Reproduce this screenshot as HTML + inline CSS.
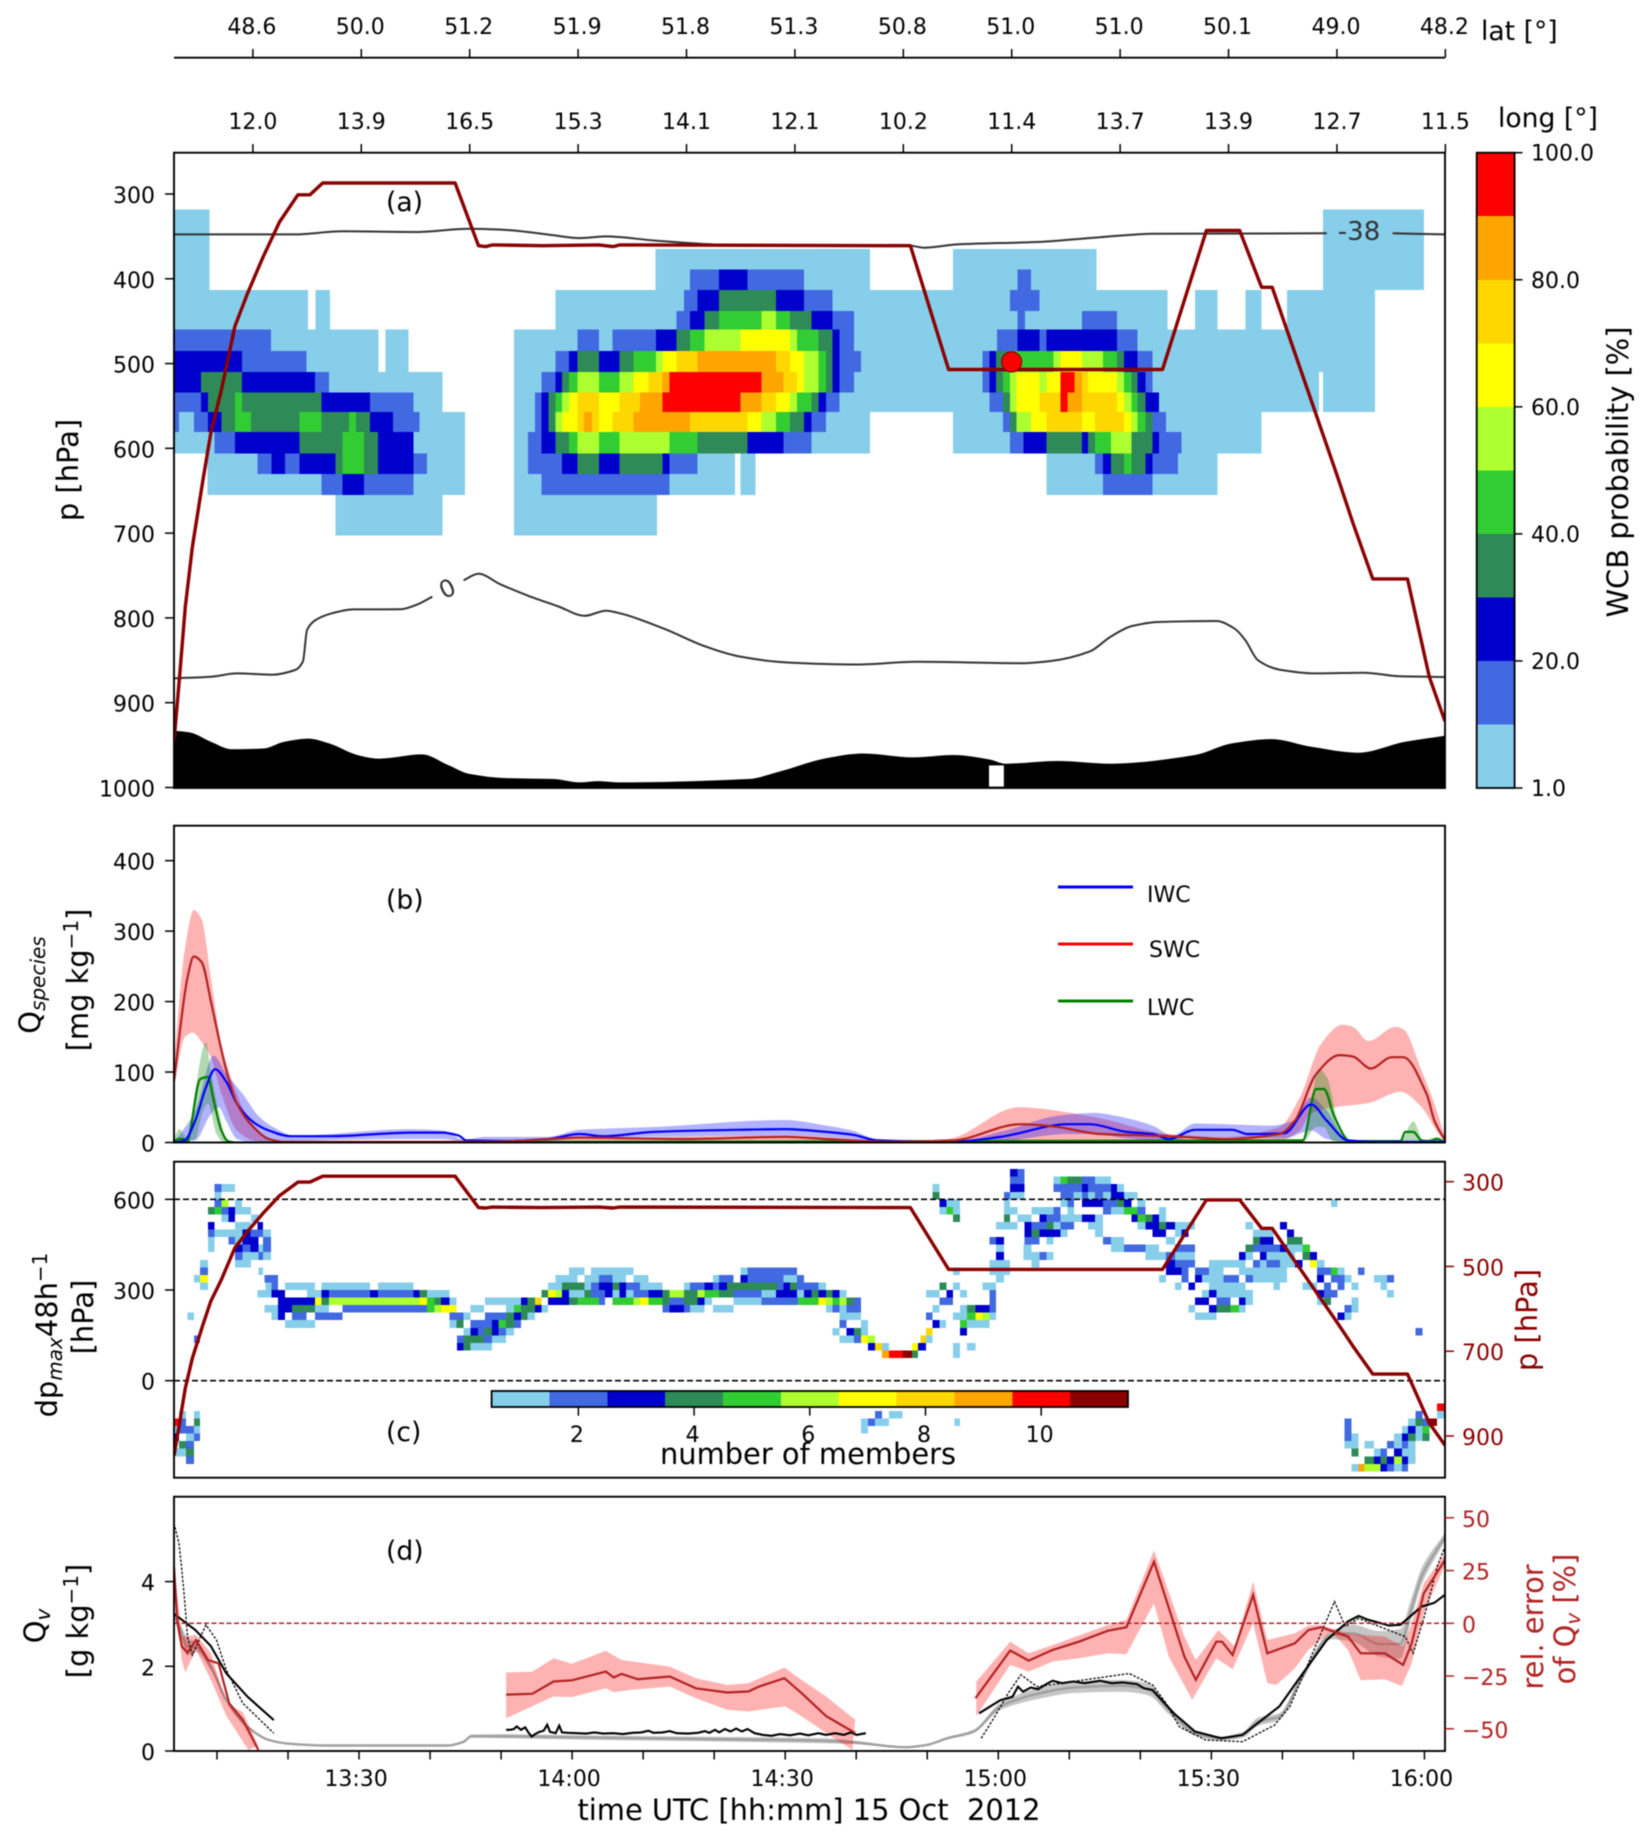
<!DOCTYPE html>
<html lang="en">
<head>
<meta charset="utf-8">
<title>WCB flight cross-section</title>
<style>
html,body{margin:0;padding:0;background:#fff}
#figure{display:block;width:1652px;height:1845px;filter:blur(0.5px)}
text{font-family:"DejaVu Sans","Liberation Sans",sans-serif;fill:#000}
.lbl{font-size:26.6px}
.ttl{font-size:28.9px}
</style>
</head>
<body>
<svg id="figure" xmlns="http://www.w3.org/2000/svg" width="1652" height="1845" viewBox="0 0 1652 1845">
<defs>
<clipPath id="clip-a"><rect x="174" y="152.7" width="1271" height="635.3"/></clipPath>
<clipPath id="clip-b"><rect x="174" y="825.7" width="1271" height="316.8"/></clipPath>
<clipPath id="clip-c"><rect x="174" y="1161.7" width="1271" height="316"/></clipPath>
<clipPath id="clip-d"><rect x="174" y="1496.7" width="1271" height="254.3"/></clipPath>
</defs>
<g id="panel-a"></g>
<g id="panel-b"></g>
<g id="panel-c"></g>
<g id="panel-d"></g>
<g id="axes-layer"></g>

<text class="lbl" x="386" y="211">(a)</text>
<text class="lbl" x="386" y="909">(b)</text>
<text class="lbl" x="386" y="1441">(c)</text>
<text class="lbl" x="386" y="1560">(d)</text>

<text class="lbl" x="1481" y="40">lat [°]</text>
<text class="lbl" x="1498" y="127">long [°]</text>
<text class="ttl" text-anchor="middle" transform="translate(78,470) rotate(-90)">p [hPa]</text>
<text class="ttl" text-anchor="middle" transform="translate(1628,472) rotate(-90)">WCB probability [%]</text>

<text class="ttl" text-anchor="middle" transform="translate(40,985) rotate(-90)">Q<tspan font-size="20" font-style="italic" dy="5">species</tspan></text>
<text class="ttl" text-anchor="middle" transform="translate(88,980) rotate(-90)">[mg kg<tspan font-size="20" dy="-10">−1</tspan><tspan dy="10">]</tspan></text>

<line x1="1058" x2="1133" y1="887" y2="887" stroke="#0000ff" stroke-width="3"/>
<line x1="1058" x2="1133" y1="944" y2="944" stroke="#ff0000" stroke-width="3"/>
<line x1="1058" x2="1133" y1="1001" y2="1001" stroke="#008000" stroke-width="3"/>
<text x="1147" y="902" font-size="22">IWC</text>
<text x="1149" y="957" font-size="22">SWC</text>
<text x="1147" y="1015" font-size="22">LWC</text>

<text class="ttl" text-anchor="middle" transform="translate(57,1335) rotate(-90)">dp<tspan font-size="20" font-style="italic" dy="5">max</tspan><tspan dy="-5">48h</tspan><tspan font-size="20" dy="-10">−1</tspan></text>
<text class="ttl" text-anchor="middle" transform="translate(93,1317) rotate(-90)">[hPa]</text>
<text class="ttl" text-anchor="middle" transform="translate(1537,1320) rotate(-90)" style="fill:#8b0000">p [hPa]</text>
<text class="ttl" text-anchor="middle" x="808" y="1464">number of members</text>

<text class="ttl" text-anchor="middle" transform="translate(45,1626) rotate(-90)">Q<tspan font-size="20" font-style="italic" dy="5">v</tspan></text>
<text class="ttl" text-anchor="middle" transform="translate(88,1621) rotate(-90)">[g kg<tspan font-size="20" dy="-10">−1</tspan><tspan dy="10">]</tspan></text>
<text class="ttl" text-anchor="middle" transform="translate(1543,1627) rotate(-90)" style="fill:#b22222">rel. error</text>
<text class="ttl" text-anchor="middle" transform="translate(1575,1619) rotate(-90)" style="fill:#b22222">of Q<tspan font-size="20" font-style="italic" dy="5">v</tspan><tspan dy="-5"> [%]</tspan></text>
<text class="ttl" text-anchor="middle" x="809" y="1820">time UTC [hh:mm] 15 Oct&#160;&#160;2012</text>
</svg>

<script>
// ---------- shared axis values ----------
const latLabels = ["48.6","50.0","51.2","51.9","51.8","51.3","50.8","51.0","51.0","50.1","49.0","48.2"];
const lonLabels = ["12.0","13.9","16.5","15.3","14.1","12.1","10.2","11.4","13.7","13.9","12.7","11.5"];
const pressureTicks = [300,400,500,600,700,800,900,1000];
const wcbLevels = [1,10,20,30,40,50,60,70,80,90,100];
const wcbColors = ["#87ceeb","#4169e1","#0000cd","#2e8b57","#32cd32","#adff2f","#ffff00","#ffd700","#ffa500","#ff0000"];
const wcbColorbarTicks = [1,20,40,60,80,100];
const qTicks = [0,100,200,300,400];
const dpTicks = [0,300,600];
const cRightTicks = [300,500,700,900];
const memberColors = ["#87ceeb","#4169e1","#0000cd","#2e8b57","#32cd32","#adff2f","#ffff00","#ffd700","#ffa500","#ff0000","#8b0000"];
const memberTicks = [2,4,6,8,10];
const qvTicks = [0,2,4];
const relTicks = [-50,-25,0,25,50];
const timeTickMinutes = [790,800,810,820,830,840,850,860,870,880,890,900,910,920,930,940,950,960];

// ---------- panel (a) data (time in minutes since axis start) ----------
const wcbPressureEdges = [318,365,389,413,438,460,485,510,534,557,581,606,630,655,703];
const wcbRuns = [
[0,5,5,0,162.3,5,176.5,0],
[0,5,5,0,68,5,98.3,0,110,5,130.3,0,162.3,5,176.5,0],
[0,5,5,0,68,5,72.9,15,77,25,81,15,89,5,98.3,0,110,5,119.1,15,121,5,130.3,0,162.3,5,176.5,0],
[0,5,18.9,0,20,5,22,0,53.9,5,72,15,73.9,25,77,35,85,25,89,15,93,5,118.1,15,122.2,5,140.3,0,144.2,5,147.4,0,151.3,5,153.6,0,157.2,5,169.6,0],
[0,5,18.9,0,20,5,22,0,53.9,5,71,15,72.9,25,74.9,35,77,45,83,55,85,45,87,35,90,25,93,15,96,5,119.1,15,120.2,5,128.2,15,133.2,5,140.3,0,144.2,5,147.4,0,151.3,5,153.6,0,157.2,5,169.6,0],
[0,15,13.7,5,28.9,0,29.9,5,33.1,0,48,5,57,15,60,5,61.9,15,68.1,25,71,35,72.9,45,74.9,55,80,65,87,55,88,45,91,35,93,25,94,15,96,5,116.2,15,119.1,25,122.2,15,123.2,25,133.2,15,136.1,5,169.6,0],
[0,25,9.6,15,18.7,5,28.9,0,29.9,5,33.1,0,48,5,53.9,15,55.8,25,57,35,60,25,62.9,35,64.9,45,68.1,55,69,65,71,75,73.9,85,85,75,87,65,89,55,91,45,92.1,35,93,25,94,15,97,5,114.2,15,115.2,25,116.1,35,118.1,45,124.2,55,125.2,65,128.2,55,131.2,45,133.2,35,134.2,25,136.1,15,138.2,5,169.6,0],
[0,25,3.8,35,9.6,25,19.9,15,21.9,5,37.9,0,48,5,51.9,15,53.9,25,54.8,35,55.8,45,57,55,60,45,62.9,55,64.9,65,67,75,69,85,70,95,83,85,86.1,75,88,65,89,55,91,45,92.1,35,93,25,94,15,96,5,114.2,15,115.2,25,116.1,35,117.1,45,118.1,55,119,65,122.2,55,123.2,65,125.2,95,127.2,85,128.2,75,129.1,65,133.2,55,134.2,45,135.2,35,136.1,25,137.2,15,138.2,5,161.7,0,162.3,5,169.6,0],
[0,15,3.8,25,4.8,35,8.6,45,9.6,35,20.8,25,27.7,15,33.8,5,37.9,0,48,5,51,15,51.9,25,52.9,35,53.9,45,54.8,55,55.8,65,57,75,60,65,62.9,75,65.8,85,69,95,80,85,83,75,85,65,87,55,88,45,90,35,91,25,92.1,15,94,5,115.2,15,117.1,35,118.1,55,119,65,122.2,75,125.2,95,126.2,85,128.2,75,133.2,65,134.2,55,135.2,45,136.1,35,137.2,25,139.1,5,161.7,0,162.3,5,169.6,0],
[0,15,.7,5,2.8,15,4.8,25,6.7,35,8.6,45,10.9,35,17.7,45,20.8,35,24.7,45,25.7,35,27.7,25,30.9,15,34.7,5,41.1,0,48,5,51,15,51.9,25,52.9,35,53.9,55,54.8,65,57,75,57.9,85,59,75,60,65,61.9,75,64.9,85,72.9,75,81,65,83,55,85,45,87,35,89,25,90,15,92.1,5,98.3,0,110,5,117.1,15,118.1,35,119,55,121,65,123.2,75,128.2,65,130.1,75,134.2,65,135.2,55,136.1,45,137.2,35,138.2,15,140.1,5,153.6,0],
[0,5,5.7,15,8.6,25,17.7,35,23.8,45,26.8,35,28.8,25,33.8,5,41.1,0,48,5,50,15,51.9,25,53.9,35,55.8,45,57,55,60,45,62.9,55,70,45,73.9,35,81,25,86.1,15,90,5,98.3,0,110,5,118.1,15,120,25,123.2,35,128.2,25,129.1,35,130.1,45,132.3,55,135.2,35,138.2,25,139.1,15,142.3,5,153.6,0],
[4.7,5,11.8,15,13.8,25,15.7,15,17.7,25,22.8,35,23.8,45,26.8,35,28.8,25,33.8,15,35.7,5,41.1,0,48,5,50,15,54.8,25,57,35,60,25,62.9,35,69,25,70,15,73.9,5,79.2,0,80,5,82.1,0,123.2,5,130.1,15,131.2,25,132.3,35,134.2,45,135.2,35,137.2,25,138.2,15,141.8,5,147.4,0],
[4.7,5,20.8,15,23.8,25,26.8,15,33.8,5,41.1,0,48,5,51.9,15,70,5,79.2,0,80,5,82.1,0,123.2,5,131.2,15,138.2,5,147.4,0],
[22.8,5,37.9,0,48,5,68.2,0]
];
const flightPressure = [[0,946],[.75,873],[1.6,787],[2.6,716],[4.1,637],[5.2,582],[6.7,531],[8.6,456],[10.4,417],[12.6,374],[14.9,333],[17.5,301],[19.2,301],[21,287],[39.7,287],[43,361],[44,362],[45,360],[52,361],[60,360],[62,362],[63,360],[104,361],[109.4,507],[139.6,507],[145.8,343],[150.5,343],[153.6,410],[155.1,410],[164.3,633],[166.5,688],[169.3,754],[174.2,754],[177.3,870],[179.5,922]];
const contourMinus38a = [[0,347.6],[10,347.6],[17,347.6],[23.8,344],[34.2,344.8],[41.7,341],[47,342.5],[53,348],[57.3,352],[61,350],[68,355],[78,360],[92.1,361],[104,361],[105.9,363.3],[110.7,359.4],[121.9,356.6],[130.8,351],[138.2,347],[162.8,346.4]];
const contourMinus38b = [[172.1,346.4],[179.5,347.6]];
const contourZeroA = [[0,871.3],[5.2,869.4],[8.9,865.5],[13.8,867],[17.1,861.5],[18.2,851.6],[18.8,814],[20,802.5],[22.3,794.6],[25.3,790],[32,789.8],[34.2,784.7],[36.5,775]];
const contourZeroB = [[40.9,755.6],[43,748],[46.1,760.4],[49.9,773.5],[54.3,786.5],[58,797.5],[61,791.5],[63.2,795],[69.2,812.7],[75.1,833.9],[79.6,845],[85.6,852],[92.1,854.4],[96.6,855],[104.8,851.8],[119.6,853.4],[124.1,850.5],[129.3,839.8],[132.3,822],[135.3,809.6],[139,804.8],[147.2,803.7],[149.8,812.7],[151.3,826.3],[153.1,850],[156.1,861],[161.3,865.5],[168,864.6],[173.2,868.9],[179.5,869.7]];
const terrainPressure = [[0,933],[2.2,935],[5.2,946],[8.2,955],[12.6,954],[15.6,946],[19,942.4],[21.9,948],[26,962],[29,966],[35,961],[38.7,973.5],[41.7,984],[46.9,989],[53.6,990],[57.3,994],[59.9,992.5],[62.9,994],[81.1,990],[85.6,981],[92.1,965.5],[97.3,960],[104.4,964.5],[110,961.7],[115.2,967],[117.4,972],[124.8,968.8],[132.3,972],[144.2,961.7],[149.4,948],[155,943],[160.6,952],[167.2,959],[173.9,946],[179.5,939]];
const terrainGap = [115.1,117.2,974,999];
const pointMarker = [118.3,498];

// ---------- panel (b) data ----------
const swcMean = [[0,88],[1.9,234],[2.8,264],[3.9,256],[5.2,201],[6.3,149],[7.4,102],[8.9,55],[11.2,22],[13.4,5],[15.6,1],[45,1],[49.9,3],[57.3,7],[72.2,5],[86.3,8],[92.1,5],[101,1],[110,3],[119.6,26],[124.1,23],[130.8,12],[140.5,9],[148.6,5],[156.1,12],[158.3,31],[161.3,97],[164.6,124],[166.5,122],[169,105],[172,121],[173.6,121],[176.9,69],[178,31],[179.5,3]];
const swcHigh = [[0,114],[1.5,272],[2.8,330],[3.9,317],[5.2,234],[6.7,140],[8.2,88],[10.4,36],[13.4,7],[15.6,1],[49.9,4],[86.3,10],[92.1,8],[101,2],[109.2,5],[119.3,50],[130,36],[140.5,12],[148.6,8],[156.1,22],[159,64],[162,140],[165,167],[166.5,164],[168.7,144],[172.5,164],[173.6,161],[176.2,102],[178,55],[179.5,8]];
const swcLow = [[0,78],[1.5,149],[2.6,156],[4.1,140],[5.2,121],[6.7,69],[8.9,17],[11.2,3],[13.4,0],[49.9,1],[86.3,3],[92.1,2],[101,0],[110,1],[119.6,3],[140.5,3],[148.6,2],[156.1,3],[159,17],[160.5,41],[163.9,50],[168.7,56],[173.2,72],[176.2,50],[178.4,15],[179.5,0]];
const iwcMean = [[0,0],[1.5,3],[3,31],[4.5,78],[5.8,104],[7.4,86],[8.9,55],[11.2,29],[13.4,17],[16.4,9],[22.3,9],[33.5,14],[37.9,14],[40.2,10],[41.3,3],[46.9,2],[52.8,5],[57.3,12],[60.6,9],[67.7,15],[79.6,18],[86.3,19],[92.1,15],[95.8,11],[99.5,3],[110,1],[116.7,8],[126.3,26],[129.3,26],[134.5,15],[138.2,12],[140.5,5],[144.2,18],[149.4,18],[151.6,12],[156.8,13],[160.6,54],[162.8,31],[165.8,3],[169.5,1],[179.5,1]];
const iwcHigh = [[0,0],[3,45],[5.6,123],[7.4,97],[9.7,69],[11.9,38],[14,22],[17,10],[33.5,19],[37.9,17],[41,4],[43.9,8],[52.8,8],[57.3,18],[67.7,22],[86.3,32],[92.1,24],[95.8,17],[99.5,4],[110,2],[117.4,17],[124.8,38],[130,42],[133,38],[138.2,24],[141,10],[144.2,27],[155,24],[158,31],[160.6,64],[162.8,45],[165.8,4],[179.5,1]];
const iwcLow = [[0,0],[3,3],[5.2,40],[6.3,50],[7.4,30],[8.9,5],[11.2,0],[16.4,2],[33.5,5],[37.9,5],[41.3,1],[52.8,2],[57.3,6],[67.7,8],[86.3,10],[92.1,8],[95.8,5],[99.5,1],[110,0],[116.7,2],[126.3,12],[130,12],[134.5,6],[140.5,2],[144.2,8],[156.8,6],[160.6,17],[162.8,5],[165.8,1],[179.5,1]];
const lwcMean = [[0,0],[.6,5],[1.3,5],[1.9,0],[2.2,12],[3.7,90],[4.8,93],[5.6,60],[6.7,17],[7.6,2],[8.6,0],[159.4,3],[161.3,76],[162.4,76],[163.9,36],[166.1,2],[173.2,2],[173.9,15],[175,15],[176.2,3],[177.3,2],[178.4,5],[179.5,0]];
const lwcHigh = [[0,5],[.7,19],[1.5,10],[2,0],[2.6,45],[4.5,142],[5.2,102],[6.3,45],[7.4,5],[8.6,0],[159.4,0],[161.7,104],[162.8,93],[164.6,22],[166.1,2],[173.2,2],[175,30],[176.5,3],[178.4,8],[179.5,0]];
const lwcLow = [[0,0],[3,5],[4.1,45],[4.8,55],[6,12],[7.1,0],[159.4,0],[161.3,22],[162.4,22],[163.5,3],[164.6,0],[179.5,0]];

// ---------- panel (c) data: rows keyed by lower dp edge, runs of [time, members] ----------
const memberDpEdges = [675,650,625,600,575,550,525,500,475,450,425,400,375,350,325,300,275,250,225,200,175,150,125,100,75,-100,-125,-150,-175,-200,-225,-250,-275,-300];
const memberRuns = [
[118.1,3,119.1,2,120.1,0],
[118.1,2,120.1,0,124.2,1,125.2,5,126.2,4,128.2,2,130.1,1,132.3,0],
[5.7,2,6.7,1,8.6,0,107.1,1,108.1,0,118.1,3,120.1,0,124.2,2,128.2,3,129.1,2,132.3,3,133.2,1,134.2,0],
[5.7,1,6.7,0,107.1,4,108.1,0,117.2,2,118.1,1,120.1,0,125.2,2,127,1,128.2,2,129.1,1,130.1,2,131.2,1,132.3,3,134.2,1,136.1,0],
[5.7,2,6.7,6,7.7,0,8.6,1,9.6,0,108.1,3,109.1,1,111,0,117.2,1,118.1,0,125.2,1,126.2,2,127.1,0,128.2,3,131.2,2,133.2,4,134.2,3,135.2,0,136.1,1,137.2,0,163.4,1,164.3,0],
[4.8,4,5.7,5,6.7,2,7.7,3,8.6,1,10.9,0,108.1,1,109.1,5,110,1,111,0,117.2,1,119.1,0,121.1,1,124.2,2,125.2,0,126.2,1,127.1,0,131.2,2,132.3,1,134.2,5,136.1,2,137.2,0,139.1,1,140.1,0],
[6.7,1,7.7,3,8.6,0,10.9,1,11.9,0,110,4,111,0,117.2,4,118.1,0,119.1,1,121.1,0,122.2,3,123.2,2,125.2,1,128.2,3,130.1,1,131.2,0,135.2,3,136.1,5,137.2,4,138.2,3,139.1,1,140.1,0],
[4.8,3,5.7,0,8.6,1,10.9,0,11.8,3,12.6,0,116.1,1,119.1,0,120.1,3,121.1,2,123.2,4,124.2,1,125.2,2,127.1,0,129.1,1,131.2,0,136.1,1,137.2,3,139.1,4,140.1,3,141.4,1,144.2,0,151.3,1,152.4,0,156.2,3,157.2,0],
[4.8,2,5.7,1,9.7,3,10.8,2,12.6,1,13.7,0,120.1,3,121.1,4,122.2,3,125.2,1,126.2,0,130.1,1,131.2,0,138.2,3,140.1,0,141.4,1,142.3,3,143.3,0,152.4,1,155.3,0,157.2,3,158.2,0],
[4.8,1,5.7,0,7.7,2,8.6,1,9.7,3,11.9,0,12.6,2,13.7,0,115.2,2,116.1,3,117.2,0,120.1,2,122.2,0,123.2,1,124.2,0,131.2,2,132.3,1,134.2,0,140.1,1,141.4,0,152.4,4,153.4,3,155.3,0,157.2,4,159.4,0],
[4.8,1,5.7,0,8.6,3,9.7,2,10.8,3,11.9,1,12.6,2,13.7,0,116.1,1,117.2,0,120,1,121.1,0,132.3,1,134.2,2,137.2,1,139.1,0,141.4,2,144.2,0,151.3,4,152.4,2,156.2,3,157.2,1,159.4,5,160.4,0],
[8.6,2,9.7,1,11.9,2,12.6,1,13.7,0,116.1,3,117.2,0,120,1,122.2,2,123.2,1,124.2,0,137.2,1,140.1,2,141.4,1,144.2,0,150.4,3,151.3,1,152.4,0,153.4,3,154.3,1,158.3,0,159.4,4,160.4,3,161.4,0],
[3.7,1,4.8,0,8.6,1,10.9,0,115.2,1,118.1,0,121.1,1,122.2,0,140.1,3,141.4,2,144.2,0,146.2,1,151.3,0,152.4,2,153.4,1,154.3,2,156.2,1,158.3,3,159.4,0,160.4,7,161.4,1,162.5,0],
[3.7,2,4.8,0,11.9,1,12.6,0,55.8,1,58,0,58.9,1,64.9,0,80,1,81,2,88,0,110,1,111,0,115.2,1,118.1,0,140.1,3,142.3,2,143.3,0,144.2,2,146.2,1,148.2,0,150.4,1,157.2,0,161.4,2,163.4,5,164.3,1,165.3,0,167.2,2,168.1,0],
[2.8,1,3.7,7,4.8,0,12.8,2,14.7,0,53.9,1,57,0,58,1,60,2,61.9,1,63.8,0,64.9,1,67,0,76.1,1,77,2,79,0,80,3,81,2,86.1,1,88,2,89,0,116.1,1,117.2,0,139.1,1,140.1,0,142.3,2,143.3,0,144.2,3,145.2,1,148.2,2,150.4,0,151.3,2,152.4,1,157.2,0,161.4,3,162.4,0,163.4,2,165.3,1,166.3,0,169.5,1,171.3,2,172.3,0],
[3.7,1,4.8,0,12.9,1,13.8,2,14.7,0,15.7,1,19.9,0,20.8,1,27.7,0,28.8,1,33.8,0,52.8,1,54.8,4,58,1,58.9,2,60,3,61.9,4,62.9,3,63.8,2,65.8,1,69,0,72,1,72.9,2,74.9,3,76.1,2,77,3,78.1,4,85.2,2,86.1,3,87,4,88,2,91,1,92.1,0,108.1,4,109.1,0,110,1,111,0,114.2,1,116.1,0,141.4,1,142.3,0,143.3,3,144.2,0,146.2,1,151.3,0,155.3,1,156.2,0,159.4,1,161.4,0,162.4,2,163.4,0,164.3,2,165.3,0,166.3,1,167.3,0,170.4,1,171.3,0],
[11.8,1,13.8,3,15.7,0,18.8,1,20.8,3,21.9,2,27.7,3,28.8,2,33.8,3,34.7,4,35.7,1,38.9,0,51.9,4,52.8,7,53.9,6,54.8,3,55.8,1,58,4,58.9,2,60.9,3,61.9,1,62.9,3,63.8,1,64.9,2,67,3,69,4,70,6,72,4,73.9,6,74.9,5,77,4,79,2,83,1,85,3,88,1,89,3,90,4,91,3,92.1,4,93,3,94,1,95,0,106.2,1,108.1,0,109.1,3,110,0,111,1,112,0,115.2,2,116.1,0,145.2,1,146.2,3,147.2,1,152.4,0,161.4,3,162.4,2,164.3,0,171.3,1,172.3,0],
[14.7,3,19.9,7,20.8,4,21.9,6,34.7,7,35.7,5,36.8,4,37.7,3,38.9,1,39.9,0,43.9,1,49,3,49.9,4,51,8,51.9,0,52.8,3,55.8,4,57,5,60,2,60.9,0,61.9,5,64.9,6,65.8,7,67,5,69,4,70,2,72,4,73.9,3,74.9,1,76,0,79,1,83,2,88.1,5,91,7,92.1,6,93,5,94,6,95,4,96,2,97,0,108.1,2,110,0,115.2,2,116.1,0,144.2,3,146.2,0,147.2,2,149.2,0,150.4,3,151.3,1,152.4,0,161.4,1,162.4,4,163.4,0,166.3,1,167.3,0],
[12.8,1,14.7,3,16.7,4,19.9,1,21.9,0,23.8,2,35.7,5,36.8,6,37.7,7,39.9,0,41.9,1,43.8,0,46.9,1,48,5,49,4,51,3,51.9,1,52.8,0,69,2,70,3,72,2,72.9,1,74.9,0,76.1,1,79,0,92.1,1,93,2,94,1,95,2,97,0,107.1,1,108.1,0,111,1,112,4,113.2,3,115.2,2,116.1,0,143.3,1,144.2,0,146.2,3,147.2,4,149.2,5,150.4,1,151.3,0,165.3,2,166.3,1,167.3,0],
[1.9,1,2.8,0,13.8,1,14.7,3,15.7,0,16.7,2,18.7,0,19.9,2,23.8,0,38.9,2,40.9,1,41.9,0,43.9,2,46.9,4,48,3,49,4,49.9,1,51,0,94,1,97,0,106.2,2,107.1,0,110,1,112,5,113.2,7,114.2,6,115.2,1,116.1,0,144.2,1,147.2,0,164.3,3,165.3,1,166.3,0],
[15.7,1,19.9,0,38.9,1,39.9,4,40.9,0,41.9,2,44.9,3,45.8,5,46.9,4,48,2,49,0,94,2,95,0,97,1,98,0,107.1,3,108.1,1,109,0,111,5,112,1,115.2,0],
[40.9,1,41.9,3,42.9,2,43.8,4,44.9,3,45.8,2,46.9,1,48,0,93,1,94,0,95,3,96,4,97,1,98,0,106.2,8,107.1,0,111,3,112,0,175.3,2,176.3,0],
[2.8,2,3.7,0,40,2,40.9,4,43.8,2,44.9,1,46.9,0,94,1,96,2,97,7,98,6,99,0,105.4,8,106.2,1,107.1,0],
[40,3,40.9,4,41.9,1,44.9,0,98,3,99,8,100,1,101,0,104.2,7,105.1,3,106.2,0,110,1,111,0,112,1,113.2,0],
[100,9,101,10,102.9,11,104.2,4,105.1,0,110,1,111,0],
[178.4,10,179.5,0],
[.7,1,1.7,0,2.8,1,3.7,0,99,2,100,0,101,1,102.9,0,175.3,2,176.3,0,178.4,1,179.5,0],
[0,10,.7,2,1.7,0,2.8,4,3.7,0,97,1,98,2,99,1,101,0,110.2,1,111,0,165.3,2,166.3,0,174.3,1,175.3,4,176.3,2,177.3,11,178.4,0],
[0,1,.7,2,2.8,1,3.7,0,97,1,98,0,165.3,2,166.3,0,173.4,1,174.3,3,175.3,1,176.3,5,177.3,0],
[0,3,.7,0,1.7,1,2.8,2,3.7,0,165.3,2,166.3,1,167.3,0,172.3,1,173.4,3,174.3,4,175.3,1,176.3,4,177.3,0],
[.7,4,1.7,2,2.8,0,165.3,1,167.3,0,168.1,1,169.5,0,171.3,2,172.3,1,173.4,2,174.3,1,175.3,0],
[0,1,1.7,4,2.8,0,166.3,4,167.3,0,169.5,1,170.4,2,171.3,0,172.3,3,173.4,1,175.3,0],
[1.7,2,2.8,0,168.1,4,169.5,3,170.4,4,171.3,3,172.3,6,173.4,3,174.3,1,175.3,0],
[166.3,1,167.3,9,168.1,6,170.4,3,171.3,2,172.3,1,173.4,2,174.3,0]
];

// ---------- panel (d) data ----------
const qvModel = [[0,3.25,.05],[1.1,2.78,.15],[1.9,2.46,.2],[3,2.46,.12],[5.2,1.99,.08],[7.4,1.2,.06],[10.4,.57,.04],[13.4,.26,.02],[16.4,.17,.02],[21.6,.13,.02],[38.7,.13,.02],[40.9,.22,.03],[42,.35,.04],[46.1,.35,.05],[57.3,.32,.05],[92.1,.24,.06],[96.2,.2,.04],[103.3,.09,.02],[106.2,.14,.02],[109.2,.3,.03],[112.9,.46,.04],[116.7,1.05,.08],[121.9,1.35,.13],[127.1,1.5,.13],[133.8,1.54,.14],[137.5,1.46,.14],[140.5,.97,.1],[144.2,.42,.06],[147.9,.3,.05],[150.9,.38,.07],[153.1,.69,.1],[156.1,.81,.08],[159.1,1.68,.08],[163.5,2.74,.1],[166.5,2.78,.2],[170.2,2.53,.3],[173.2,2.53,.35],[174.7,3.33,.25],[176.2,4.12,.2],[179.5,5.06,.1]];
const qvObsA = [[0,3.24],[3,2.86],[5.2,2.48],[7.4,1.83],[10.4,1.28],[14.1,.73]];
const qvObsB = [[46.9,.5],[47.5,.5],[48,.52],[48.4,.58],[49,.5],[49.6,.56],[50,.45],[50.5,.34],[51,.4],[51.6,.45],[52.2,.48],[52.7,.62],[53.1,.45],[53.9,.42],[54.4,.6],[54.8,.44],[55.6,.43],[57,.42],[58.2,.41],[59.4,.44],[60.6,.41],[62,.42],[63.4,.4],[64.8,.43],[66,.44],[67,.48],[67.7,.43],[69,.44],[70,.47],[71,.42],[72.6,.41],[74,.43],[75,.47],[75.6,.43],[76.4,.5],[77,.44],[77.8,.52],[78.6,.46],[79.4,.53],[80.2,.46],[81,.52],[82,.42],[83.2,.38],[84.4,.36],[85.6,.4],[87,.37],[88.4,.41],[89.6,.37],[91,.42],[92.1,.38],[93.4,.42],[94.6,.38],[95.6,.44],[96.4,.38],[97.7,.42]];
const qvObsC = [[113.7,.89],[116.7,1.2],[118.4,1.28],[119.2,1.52],[119.9,1.4],[121,1.5],[122,1.46],[123.2,1.58],[124.1,1.66],[125.4,1.6],[127,1.64],[128.6,1.6],[130.8,1.66],[132.4,1.6],[134,1.62],[136,1.58],[137,1.48],[138.2,1.44],[141.2,.89],[144.2,.46],[147.9,.3],[150.9,.38],[156.1,1.05],[159.1,1.76],[162.8,2.62],[165.8,3.06],[167.3,3.19],[168.6,3.1],[170.2,3.03],[171.6,2.96],[173.2,2.98],[176.2,3.41],[178,3.5],[179.5,3.69]];
const qvDottedA = [[0,5.38],[.7,4.9],[1.1,4.28],[1.5,3.57],[1.9,2.7],[2.6,2.27],[4.5,2.98],[6,2.62],[7.4,1.91],[9.7,1.13],[14.1,.42]];
const qvDottedC = [[114,.3],[115.9,.81],[117.8,1.36],[119.6,1.8],[121.9,1.52],[134.9,1.83],[138.2,1.56],[140.1,1.13],[142,.57],[145.7,.26],[150.9,.22],[155.4,.61],[157.6,1.05],[163.9,3.53],[165.4,2.94],[167.3,3.13],[173.9,2.7],[175,2.31],[176.5,3.13],[178.4,4.35],[179.5,4.83]];
const relMeanA = [[0,26.8],[.5,0],[1.1,-11],[1.9,-14],[3.1,-7.9],[4.8,-17.4],[6.3,-19],[7.8,-37.9],[9.7,-45.7],[11.9,-60]];
const relHighA = [[0,27.6],[1.1,-6.3],[3.1,-5.5],[5.2,-14],[7.4,-38],[9.7,-42],[11.9,-58]];
const relLowA = [[0,20],[1.1,-17.4],[1.6,-23.3],[3.1,-12.6],[5.2,-26.8],[7.4,-44],[10.5,-60]];
const relMeanB = [[46.9,-33.8],[50.6,-33.4],[53.6,-27.6],[56.2,-27],[61,-22.9],[62.1,-25.7],[63.2,-24],[65.5,-26.5],[70,-25.2],[73.7,-30.8],[78.1,-32.8],[81.1,-32.3],[82.6,-30],[86.2,-26],[88.6,-33],[92.1,-44],[96.2,-52]];
const relHighB = [[46.9,-23.3],[50.6,-22.9],[53.6,-16.6],[56.2,-19.2],[61,-13.1],[63.2,-17.4],[70,-20.5],[73.7,-26],[78.1,-29.2],[81.1,-28.4],[86.2,-21],[88.6,-26.8],[92.1,-34.7],[96.2,-45.7]];
const relLowB = [[46.9,-45],[53.6,-34.7],[56.2,-35],[61,-30.8],[62.1,-32.7],[64.7,-31.5],[70,-30],[73.7,-35.5],[78.1,-41],[81.1,-41.8],[86.3,-39.4],[88.6,-44],[92.1,-52],[95.8,-60]];
const relMeanC = [[113.2,-35.5],[118.1,-12.9],[120.7,-17.7],[124.1,-12.6],[127.8,-8.7],[131.9,-3.5],[134.5,-1.9],[138.4,29.2],[142.7,-15.8],[144.3,-26.8],[147.2,-8.7],[148,-8.7],[149.5,-15],[152.4,13.4],[154.4,-14.2],[158.3,-9.5],[160.2,-3.2],[162,-1.9],[165.8,-6.3],[167.6,-14.2],[171,-14.2],[173.6,-19.7],[174.8,-9.5],[176.5,14.2],[179.5,30]];
const relHighC = [[113.3,-27.6],[118.1,-8.7],[120.7,-14.2],[124.1,-10.3],[131.9,-.8],[134.5,1.6],[138.4,34.7],[142.7,-6.3],[144.3,-17.4],[147.5,-3.2],[149.8,-11],[152.4,19.7],[154.4,-7.9],[158.3,-4.7],[160.2,-1.1],[162,-.8],[165.8,-4.7],[167.6,-5.5],[171,-6.3],[173.6,-11],[174.8,0],[176.5,19],[179.5,33]];
const relLowC = [[113.3,-44],[118.1,-19.7],[120.7,-22.9],[124.1,-18.1],[127.8,-16.6],[131.9,-14.2],[134.5,-14.7],[138.4,9.5],[140.5,-15.8],[143.8,-36.3],[147.2,-16.6],[149.5,-21.8],[152.4,0],[154.4,-28.4],[155.7,-29.2],[158.3,-21.3],[160.2,-12.6],[163.5,-3.9],[165.8,-12.6],[167.6,-27],[171,-26.5],[173.4,-29.7],[174.8,-18.9],[176.5,4.7],[179.5,27.6]];

// ---------- axis functions ----------
const AX_L = 174, AX_R = 1445;
function xT(t){ return AX_L + t * (AX_R - AX_L) / 179.5; }
function clockToT(m){ return 6.07 + (m - 790) * 1.0031; }
function yP(p){ return 194 + (p - 300) * 0.8478; }
function yQ(v){ return 1142.5 - v * 0.7046; }
function yDp(d){ return 1380.7 - d * 0.3023; }
function yPc(p){ return 1181.7 + (p - 300) * 0.4238; }
function yQv(q){ return 1751 - q * 42.35; }
function yRel(r){ return 1623.3 - r * 2.11; }

const SVGNS = "http://www.w3.org/2000/svg";
function add(parent, tag, attrs){
  const el = document.createElementNS(SVGNS, tag);
  for (const k in attrs) el.setAttribute(k, attrs[k]);
  parent.appendChild(el);
  return el;
}
function linePath(pts, fy){
  return pts.map((p, i) => (i ? "L" : "M") + xT(p[0]).toFixed(1) + " " + fy(p[1]).toFixed(1)).join("");
}
function bandPath(high, low, fy){
  const rev = low.slice().reverse();
  return linePath(high, fy) + rev.map(p => "L" + xT(p[0]).toFixed(1) + " " + fy(p[1]).toFixed(1)).join("") + "Z";
}
// monotone cubic interpolation through the data points (no overshoot)
function smoothPath(pts, fy, first){
  const xs = pts.map(p => xT(p[0])), ys = pts.map(p => fy(p[1]));
  const n = pts.length;
  const d = [];
  for (let i = 0; i < n - 1; i++) d.push((ys[i + 1] - ys[i]) / (xs[i + 1] - xs[i]));
  const m = new Array(n);
  m[0] = d[0];
  m[n - 1] = d[n - 2];
  for (let i = 1; i < n - 1; i++) {
    m[i] = d[i - 1] * d[i] <= 0 ? 0 : 2 * d[i - 1] * d[i] / (d[i - 1] + d[i]);
  }
  let s = (first || "M") + xs[0].toFixed(1) + " " + ys[0].toFixed(1);
  for (let i = 0; i < n - 1; i++) {
    const h = (xs[i + 1] - xs[i]) / 3;
    s += "C" + (xs[i] + h).toFixed(1) + " " + (ys[i] + m[i] * h).toFixed(1) + " " + (xs[i + 1] - h).toFixed(1) + " " + (ys[i + 1] - m[i + 1] * h).toFixed(1) + " " + xs[i + 1].toFixed(1) + " " + ys[i + 1].toFixed(1);
  }
  return s;
}
function smoothBand(high, low, fy){
  return smoothPath(high, fy, "M") + smoothPath(low.slice().reverse(), fy, "L") + "Z";
}
function colorForProb(v){
  for (let i = wcbColors.length - 1; i >= 0; i--) if (v >= wcbLevels[i]) return wcbColors[i];
  return "none";
}

const gA = document.getElementById("panel-a");
const gB = document.getElementById("panel-b");
const gC = document.getElementById("panel-c");
const gD = document.getElementById("panel-d");
const gAxes = document.getElementById("axes-layer");

// ---------- panel (a) drawing ----------
const aClip = add(gA, "g", {"clip-path":"url(#clip-a)"});


wcbRuns.forEach((runs, r) => {
  const y0 = yP(wcbPressureEdges[r]), y1 = yP(wcbPressureEdges[r + 1]);
  for (let i = 0; i + 2 < runs.length; i += 2) {
    if (runs[i + 1] <= 0) continue;
    const cell = add(aClip, "rect", {x:xT(runs[i]), y:y0, width:xT(runs[i + 2]) - xT(runs[i]), height:y1 - y0, fill:colorForProb(runs[i + 1]), "shape-rendering":"crispEdges"});
    
    
  }
});
[contourMinus38a, contourMinus38b].forEach(pts => {
  const c = add(aClip, "path", {d:smoothPath(pts, yP), fill:"none", stroke:"#333", "stroke-width":2});
  
  
});
[contourZeroA, contourZeroB].forEach(pts => {
  const c = add(aClip, "path", {d:smoothPath(pts, yP), fill:"none", stroke:"#333", "stroke-width":2});
  
  
});
const lab38 = add(aClip, "text", {x:1359, y:240, "text-anchor":"middle", "font-size":26, style:"fill:#333"});
lab38.textContent = "-38";


const lab0 = add(aClip, "text", {"text-anchor":"middle", "font-size":24, transform:"translate(447,588) rotate(-25) translate(0,9)", style:"fill:#333"});
lab0.textContent = "0";


const terrain = add(aClip, "path", {d:smoothPath(terrainPressure, yP) + "L" + xT(179.5) + " 788L" + xT(0) + " 788Z", fill:"#000"});


const gap = add(aClip, "rect", {x:xT(terrainGap[0]), y:yP(terrainGap[2]), width:xT(terrainGap[1]) - xT(terrainGap[0]), height:yP(terrainGap[3]) - yP(terrainGap[2]), fill:"#fff"});


const flightA = add(aClip, "path", {d:linePath(flightPressure, yP), fill:"none", stroke:"#8b0000", "stroke-width":3.4, "stroke-linejoin":"round"});


const marker = add(aClip, "circle", {cx:xT(pointMarker[0]), cy:yP(pointMarker[1]), r:10, fill:"#ff0000", stroke:"#8b0000", "stroke-width":1.2});



// ---------- panel (b) drawing ----------
const bClip = add(gB, "g", {"clip-path":"url(#clip-b)"});


const bandSwc = add(bClip, "path", {d:smoothBand(swcHigh, swcLow, yQ), fill:"#ff0000", "fill-opacity":.3});


const bandIwc = add(bClip, "path", {d:smoothBand(iwcHigh, iwcLow, yQ), fill:"#0000ff", "fill-opacity":.3});


const bandLwc = add(bClip, "path", {d:smoothBand(lwcHigh, lwcLow, yQ), fill:"#008000", "fill-opacity":.3});


const lineLwc = add(bClip, "path", {d:smoothPath(lwcMean, yQ), fill:"none", stroke:"#008000", "stroke-width":2.2});


const lineIwc = add(bClip, "path", {d:smoothPath(iwcMean, yQ), fill:"none", stroke:"#0000ff", "stroke-width":2.2});


const lineSwc = add(bClip, "path", {d:smoothPath(swcMean, yQ), fill:"none", stroke:"#b22222", "stroke-width":2.2});



// ---------- panel (c) drawing ----------
const cClip = add(gC, "g", {"clip-path":"url(#clip-c)"});


memberRuns.forEach((runs, r) => {
  const yTop = yDp(memberDpEdges[r] + 25), yBot = yDp(memberDpEdges[r]);
  for (let i = 0; i + 2 < runs.length; i += 2) {
    if (runs[i + 1] <= 0) continue;
    const cell = add(cClip, "rect", {x:xT(runs[i]), y:yTop, width:xT(runs[i + 2]) - xT(runs[i]), height:yBot - yTop, fill:memberColors[runs[i + 1] - 1], "shape-rendering":"crispEdges"});
    
    
  }
});
[0, 600].forEach(d => {
  const dash = add(cClip, "line", {x1:AX_L, x2:AX_R, y1:yDp(d), y2:yDp(d), stroke:"#000", "stroke-width":1.6, "stroke-dasharray":"6 3"});
  
  
});
const flightC = add(cClip, "path", {d:linePath(flightPressure, yPc), fill:"none", stroke:"#8b0000", "stroke-width":3.4, "stroke-linejoin":"round"});


// inset colorbar
memberColors.forEach((col, i) => {
  const sw = add(gC, "rect", {x:491.6 + i * 57.85, y:1391, width:57.85, height:16, fill:col, "shape-rendering":"crispEdges"});
  
  
});
const cbBox = add(gC, "rect", {x:491.6, y:1391, width:636.35, height:16, fill:"none", stroke:"#000", "stroke-width":1.8});


memberTicks.forEach(m => {
  const px = 491.6 + (m - 0.5) * 57.85;
  const tk = add(gC, "line", {x1:px, x2:px, y1:1407, y2:1415.7, stroke:"#000", "stroke-width":1.5});
  
  
  const tl = add(gC, "text", {x:px - 1.5, y:1442, "text-anchor":"middle", "font-size":22});
  tl.textContent = String(m);
  
  
});

// ---------- panel (d) drawing ----------
const dClip = add(gD, "g", {"clip-path":"url(#clip-d)"});


const modelBand = add(dClip, "path", {d:smoothBand(qvModel.map(p => [p[0], p[1] + p[2]]), qvModel.map(p => [p[0], p[1] - p[2]]), yQv), fill:"#808080", "fill-opacity":.45});


const modelLine = add(dClip, "path", {d:smoothPath(qvModel, yQv), fill:"none", stroke:"#a0a0a0", "stroke-width":2.4});


[[relHighA, relLowA], [relHighB, relLowB], [relHighC, relLowC]].forEach(pair => {
  const b = add(dClip, "path", {d:bandPath(pair[0], pair[1], yRel), fill:"#ff0000", "fill-opacity":.3});
  
  
});
[qvDottedA, qvDottedC].forEach(pts => {
  const d = add(dClip, "path", {d:linePath(pts, yQv), fill:"none", stroke:"#000", "stroke-width":1.3, "stroke-dasharray":"2.5 1.6"});
  
  
});
[qvObsA, qvObsB, qvObsC].forEach(pts => {
  const d = add(dClip, "path", {d:linePath(pts, yQv), fill:"none", stroke:"#000", "stroke-width":2.1});
  
  
});
[relMeanA, relMeanB, relMeanC].forEach(pts => {
  const d = add(dClip, "path", {d:linePath(pts, yRel), fill:"none", stroke:"#b22222", "stroke-width":2.2});
  
  
});
const zeroRel = add(dClip, "line", {x1:AX_L, x2:AX_R, y1:yRel(0), y2:yRel(0), stroke:"#b22222", "stroke-width":1.5, "stroke-dasharray":"5 2.5"});



// ---------- frames ----------
[[152.7,788],[825.7,1142.5],[1161.7,1477.7],[1496.7,1751]].forEach(f => {
  const fr = add(gAxes, "rect", {x:AX_L, y:f[0], width:AX_R - AX_L, height:f[1] - f[0], fill:"none", stroke:"#000", "stroke-width":1.9});
  
  
});

// ---------- top lat and long axes ----------
const latLine = add(gAxes, "line", {x1:AX_L, x2:AX_R, y1:57.7, y2:57.7, stroke:"#000", "stroke-width":1.9});


latLabels.forEach((s, i) => {
  const px = xT(11.14 + i * 15.31);
  const tk = add(gAxes, "line", {x1:px, x2:px, y1:49, y2:57.7, stroke:"#000", "stroke-width":1.5});
  
  
  const tl = add(gAxes, "text", {x:px - 1, y:34, "text-anchor":"middle", "font-size":22});
  tl.textContent = s;
  
  
});
lonLabels.forEach((s, i) => {
  const px = xT(11.14 + i * 15.31);
  const tk = add(gAxes, "line", {x1:px, x2:px, y1:144, y2:152.7, stroke:"#000", "stroke-width":1.5});
  
  
  const tl = add(gAxes, "text", {x:px, y:129, "text-anchor":"middle", "font-size":22});
  tl.textContent = s;
  
  
});

// ---------- left axes ----------
function leftTick(y, label, name){
  const tk = add(gAxes, "line", {x1:165, x2:AX_L, y1:y, y2:y, stroke:"#000", "stroke-width":1.5});
  
  
  const tl = add(gAxes, "text", {x:155, y:y + 9, "text-anchor":"end", "font-size":22});
  tl.textContent = label;
  
  
}
pressureTicks.forEach(v => leftTick(yP(v), String(v), 'pressure'));
qTicks.forEach(v => leftTick(yQ(v), String(v), 'q-species'));
dpTicks.forEach(v => leftTick(yDp(v), String(v), 'dp-max'));
qvTicks.forEach(v => leftTick(yQv(v), String(v), 'qv'));

// ---------- right axes ----------
function rightTick(y, label, color, name){
  const tk = add(gAxes, "line", {x1:AX_R, x2:1454, y1:y, y2:y, stroke:color, "stroke-width":1.5});
  
  
  const tl = add(gAxes, "text", {x:1462, y:y + 9, "font-size":22, style:"fill:" + color});
  tl.textContent = label;
  
  
}
cRightTicks.forEach(v => rightTick(yPc(v), String(v), "#8b0000", 'panel-c-pressure'));
relTicks.forEach(v => rightTick(yRel(v), String(v).replace("-", "\u2212"), "#b22222", 'rel-error'));

// ---------- time axis ----------
timeTickMinutes.forEach(m => {
  const px = xT(clockToT(m));
  const tk = add(gAxes, "line", {x1:px, x2:px, y1:1751, y2:1759.5, stroke:"#000", "stroke-width":1.5});
  
  
  if (m % 30 === 0) {
    const tl = add(gAxes, "text", {x:px - 3, y:1786, "text-anchor":"middle", "font-size":22});
    const mm = m % 60;
    tl.textContent = Math.floor(m / 60) + ":" + (mm < 10 ? "0" : "") + mm;
    
    
  }
});

// ---------- WCB colorbar ----------
function yBar(level){
  return 788 - wcbLevels.indexOf(level) * 63.53;
}
wcbColors.forEach((col, i) => {
  const sw = add(gAxes, "rect", {x:1476.7, y:yBar(wcbLevels[i + 1]), width:37.9, height:yBar(wcbLevels[i]) - yBar(wcbLevels[i + 1]), fill:col, "shape-rendering":"crispEdges"});
  
  
});
const wcbBox = add(gAxes, "rect", {x:1476.7, y:152.7, width:37.9, height:635.3, fill:"none", stroke:"#000", "stroke-width":1.8});


wcbColorbarTicks.forEach(v => {
  const y = yBar(v);
  const tk = add(gAxes, "line", {x1:1514.6, x2:1522.5, y1:y, y2:y, stroke:"#000", "stroke-width":1.5});
  
  
  const tl = add(gAxes, "text", {x:1531, y:y + 8, "font-size":22});
  tl.textContent = v.toFixed(1);
  
  
});
</script>
</body>
</html>
